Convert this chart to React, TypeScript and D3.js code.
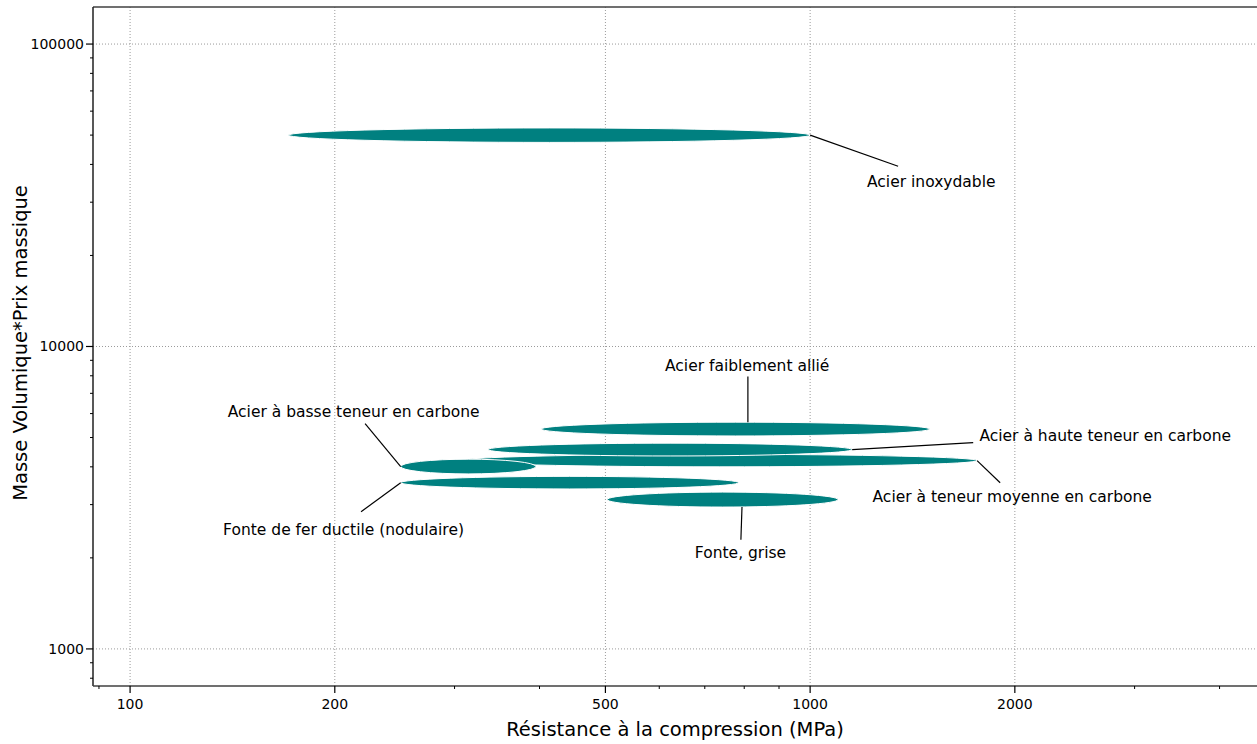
import React from "react";
import * as d3 from "d3";

const materials = [
  "Acier inoxydable",
  "Acier faiblement allié",
  "Acier à teneur moyenne en carbone",
  "Acier à haute teneur en carbone",
  "Fonte de fer ductile (nodulaire)",
  "Acier à basse teneur en carbone",
  "Fonte, grise",
];
// Résistance à la compression (MPa)
const strengthMin = [171, 402, 307, 336, 250, 250, 503];
const strengthMax = [1000, 1500, 1760, 1153, 785, 395, 1099];
// Masse volumique * prix massique
const costMin = [47300, 5060, 4000, 4345, 3380, 3790, 2945];
const costMax = [52800, 5620, 4400, 4790, 3720, 4240, 3300];

// Leader lines: side of ellipse where the line starts, and (for top/bottom) the strength value
const leaderSide = ["right", "top", "right", "right", "left", "left", "bottom"];
const leaderAtX = [0, 810, 0, 0, 0, 0, 794];
const leaderEndX = [1347, 810, 1903, 1737, 218.6, 221.6, 791];
const leaderEndY = [39450, 7957, 3545, 4808, 2842, 5560, 2297];
const labelX = [1507, 808, 1982, 2716, 206, 213.2, 790];
const labelY = [34910, 8650, 3186, 5075, 2477, 6093, 2080];

const xMajorTicks = [100, 200, 500, 1000, 2000];
const xMinorTicks = [90, 300, 400, 600, 700, 800, 900, 3000, 4000];
const yMajorTicks = [1000, 10000, 100000];
const yMinorTicks = [
  800, 900, 2000, 3000, 4000, 5000, 6000, 7000, 8000, 9000,
  20000, 30000, 40000, 50000, 60000, 70000, 80000, 90000,
];

const xTitle = "Résistance à la compression (MPa)";
const yTitle = "Masse Volumique*Prix massique";

const W = 1257;
const H = 744;
const left = 93;
const top = 7;
const bottom = 686;
const right = 1255;

const FONT = "'DejaVu Sans', Verdana, sans-serif";

export default function App() {
  const x = d3.scaleLog().domain([88.2, 4510]).range([left, right]);
  const y = d3.scaleLog().domain([754, 132600]).range([bottom, top]);

  const ellipses = materials.map((m, i) => {
    const x0 = x(strengthMin[i]);
    const x1 = x(strengthMax[i]);
    const y0 = y(costMax[i]);
    const y1 = y(costMin[i]);
    return { m, cx: (x0 + x1) / 2, cy: (y0 + y1) / 2, rx: (x1 - x0) / 2, ry: (y1 - y0) / 2 };
  });

  const leaderStart = (i: number) => {
    const e = ellipses[i];
    const s = leaderSide[i];
    if (s === "right") return [e.cx + e.rx, e.cy];
    if (s === "left") return [e.cx - e.rx, e.cy];
    const px = x(leaderAtX[i]);
    const t = (px - e.cx) / e.rx;
    const dy = e.ry * Math.sqrt(Math.max(0, 1 - t * t));
    return s === "top" ? [px, e.cy - dy] : [px, e.cy + dy];
  };

  return (
    <svg
      width={W}
      height={H}
      style={{ position: "absolute", left: 0, top: 0, background: "#fff" }}
      fontFamily={FONT}
    >
      {/* grid */}
      {xMajorTicks.map((t) => (
        <line key={"gx" + t} x1={x(t)} x2={x(t)} y1={top} y2={bottom} stroke="#9a9a9a" strokeWidth={1} strokeDasharray="1,2" />
      ))}
      {yMajorTicks.map((t) => (
        <line key={"gy" + t} x1={left} x2={W} y1={y(t)} y2={y(t)} stroke="#9a9a9a" strokeWidth={1} strokeDasharray="1,2" />
      ))}

      {/* ellipses */}
      {ellipses.map((e) => (
        <ellipse key={e.m} cx={e.cx} cy={e.cy} rx={e.rx} ry={e.ry} fill="#008080" stroke="#ffffff" strokeWidth={1} />
      ))}

      {/* leader lines */}
      {materials.map((m, i) => {
        const [sx, sy] = leaderStart(i);
        return (
          <line key={"l" + m} x1={sx} y1={sy} x2={x(leaderEndX[i])} y2={y(leaderEndY[i])} stroke="#000" strokeWidth={1.2} />
        );
      })}

      {/* labels */}
      {materials.map((m, i) => (
        <text key={"t" + m} x={x(labelX[i])} y={y(labelY[i])} textAnchor="middle" dominantBaseline="central" fontSize={15.5} fill="#000">
          {m}
        </text>
      ))}

      {/* frame */}
      <line x1={left} x2={W} y1={top} y2={top} stroke="#404040" strokeWidth={1.5} />
      <line x1={left} x2={left} y1={top} y2={bottom} stroke="#202020" strokeWidth={1.5} />
      <line x1={left} x2={W} y1={bottom} y2={bottom} stroke="#404040" strokeWidth={1.5} />

      {/* x ticks */}
      {xMajorTicks.map((t) => (
        <g key={"xt" + t}>
          <line x1={x(t)} x2={x(t)} y1={bottom} y2={bottom + 7} stroke="#000" strokeWidth={1.2} />
          <text x={x(t)} y={709} textAnchor="middle" fontSize={14} fill="#000">{t}</text>
        </g>
      ))}
      {xMinorTicks.map((t) => (
        <line key={"xm" + t} x1={x(t)} x2={x(t)} y1={bottom} y2={bottom + 3} stroke="#000" strokeWidth={1} />
      ))}

      {/* y ticks */}
      {yMajorTicks.map((t) => (
        <g key={"yt" + t}>
          <line x1={left - 7} x2={left} y1={y(t)} y2={y(t)} stroke="#000" strokeWidth={1.2} />
          <text x={left - 9} y={y(t)} textAnchor="end" dominantBaseline="central" fontSize={14} fill="#000">{t}</text>
        </g>
      ))}
      {yMinorTicks.map((t) => (
        <line key={"ym" + t} x1={left - 3} x2={left} y1={y(t)} y2={y(t)} stroke="#000" strokeWidth={1} />
      ))}

      {/* axis titles */}
      <text x={(505 + 845) / 2} y={736} textAnchor="middle" fontSize={19.5} fill="#000">{xTitle}</text>
      <text transform={`translate(27,343) rotate(-90)`} textAnchor="middle" fontSize={19.5} fill="#000">{yTitle}</text>
    </svg>
  );
}
